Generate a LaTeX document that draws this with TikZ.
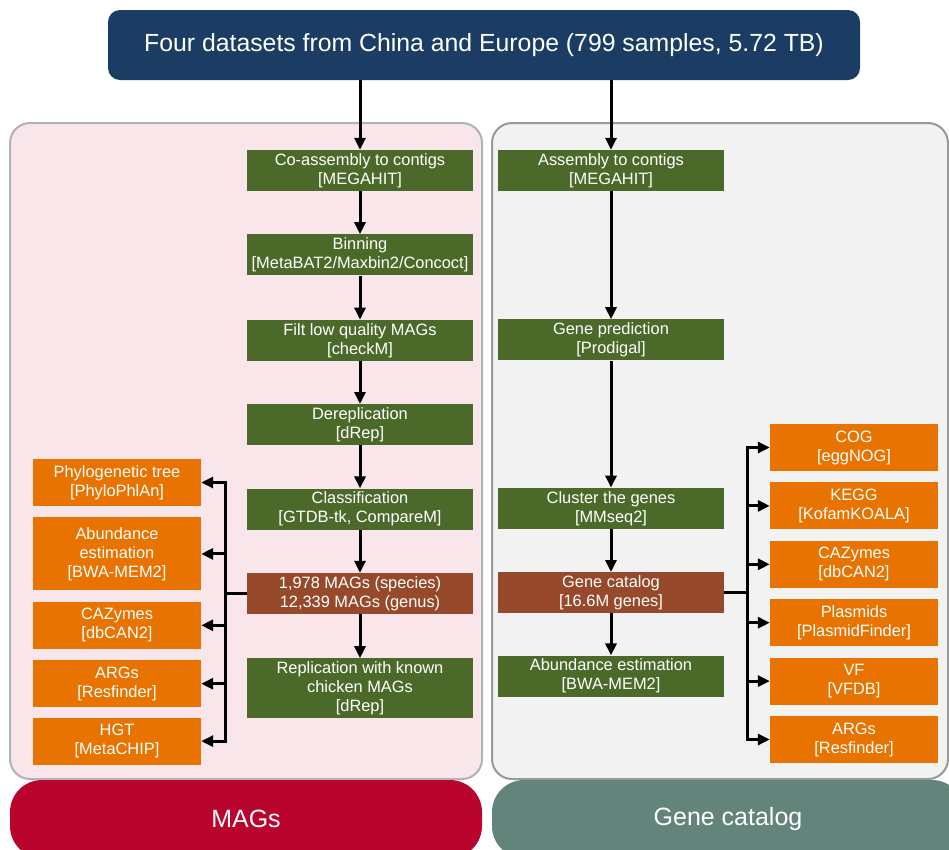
\documentclass[tikz,border=0pt]{standalone}
\usepackage{fontspec}
\setmainfont{Liberation Sans}
\usetikzlibrary{positioning,arrows.meta}
\definecolor{hdblue}{HTML}{1B3D63}
\definecolor{stepgreen}{HTML}{4B6A2A}
\definecolor{resbrown}{HTML}{964A2B}
\definecolor{outorange}{HTML}{E97300}
\definecolor{magpink}{HTML}{F8E6EA}
\definecolor{genegray}{HTML}{F1F2F1}
\definecolor{magred}{HTML}{B9042D}
\definecolor{geneteal}{HTML}{62847A}
\tikzset{
  box/.style={inner sep=0pt, align=center, text=white},
  stepbox/.style={box, fill=stepgreen, minimum width=226pt, minimum height=41pt},
  resbox/.style={stepbox, fill=resbrown},
  outbox/.style={box, fill=outorange, minimum width=168pt, minimum height=47pt},
  panel/.style={line width=2pt, rounded corners=20pt},
  tagbox/.style={box, minimum width=472pt, minimum height=78pt, rounded corners=32pt,
    font=\fontsize{25}{29}\selectfont},
  flow/.style={line width=3pt, -{Triangle[width=11pt,length=12pt]}},
  link/.style={line width=3pt}
}
\begin{document}
\begin{tikzpicture}[x=1pt, y=-1pt, font=\fontsize{16.4}{19}\selectfont]
  \useasboundingbox (0,0) rectangle (949,849);
  \clip (0,0) rectangle (949,849);
  \draw[panel, fill=magpink, draw=black!30] (10,123) rectangle (482,779);
  \draw[panel, fill=genegray, draw=black!40] (492,123) rectangle (948,779);
  \node[tagbox, fill=magred] (t1) at (246,819) {MAGs};
  \node[tagbox, fill=geneteal] (t2) at (728,819) {Gene catalog};

  \node[box, fill=hdblue, minimum width=752pt, minimum height=70pt, rounded corners=12pt,
    font=\fontsize{24.8}{29}\selectfont] (top) at (484,45)
    {Four datasets from China and Europe (799 samples, 5.72 TB)};

  \node[stepbox] (a1) at (360,170.5) {Co-assembly to contigs\\{[MEGAHIT]}};
  \node[stepbox, below=43pt of a1] (a2) {Binning\\{[MetaBAT2/Maxbin2/Concoct]}};
  \node[stepbox, below=44pt of a2] (a3) {Filt low quality MAGs\\{[checkM]}};
  \node[stepbox, below=43pt of a3] (a4) {Dereplication\\{[dRep]}};
  \node[stepbox, below=43pt of a4] (a5) {Classification\\{[GTDB-tk, CompareM]}};
  \node[resbox, below=43pt of a5] (a6) {1,978 MAGs (species)\\12,339 MAGs (genus)};
  \node[stepbox, minimum height=60pt, below=44pt of a6] (a7)
    {Replication with known\\chicken MAGs\\{[dRep]}};

  \node[outbox] (b1) at (117,482.5) {Phylogenetic tree\\{[PhyloPhlAn]}};
  \node[outbox, minimum height=73pt, below=11pt of b1] (b2) {Abundance\\estimation\\{[BWA-MEM2]}};
  \node[outbox, below=11pt of b2] (b3) {CAZymes\\{[dbCAN2]}};
  \node[outbox, below=11pt of b3] (b4) {ARGs\\{[Resfinder]}};
  \node[outbox, below=10pt of b4] (b5) {HGT\\{[MetaCHIP]}};

  \node[stepbox] (g1) at (611,170.5) {Assembly to contigs\\{[MEGAHIT]}};
  \node[stepbox, below=128pt of g1] (g2) {Gene prediction\\{[Prodigal]}};
  \node[stepbox, below=127pt of g2] (g3) {Cluster the genes\\{[MMseq2]}};
  \node[resbox, below=43pt of g3] (g4) {Gene catalog\\{[16.6M genes]}};
  \node[stepbox, below=42pt of g4] (g5) {Abundance estimation\\{[BWA-MEM2]}};

  \node[outbox] (c1) at (854,447.5) {COG\\{[eggNOG]}};
  \node[outbox, below=11pt of c1] (c2) {KEGG\\{[KofamKOALA]}};
  \node[outbox, below=11pt of c2] (c3) {CAZymes\\{[dbCAN2]}};
  \node[outbox, below=11pt of c3] (c4) {Plasmids\\{[PlasmidFinder]}};
  \node[outbox, below=11pt of c4] (c5) {VF\\{[VFDB]}};
  \node[outbox, below=11pt of c5] (c6) {ARGs\\{[Resfinder]}};

  \coordinate (lb) at ([xshift=24pt]b1.east);
  \coordinate (rb) at ([xshift=-22pt]c1.west);

  \draw[flow] (top.south -| a1) -- (a1);
  \draw[flow] (top.south -| g1) -- (g1);
  \foreach \i/\j in {a1/a2, a2/a3, a3/a4, a4/a5, a5/a6, a6/a7, g1/g2, g2/g3, g3/g4, g4/g5}
    \draw[flow] (\i) -- (\j);

  \draw[link] (a6.west) -- (a6.west -| lb);
  \draw[link] ([yshift=1.5pt]lb |- b1) -- ([yshift=-1.5pt]lb |- b5);
  \foreach \i in {b1, b2, b3, b4, b5}
    \draw[flow] (lb |- \i) -- (\i);

  \draw[link] (g4.east) -- (g4.east -| rb);
  \draw[link] ([yshift=1.5pt]rb |- c1) -- ([yshift=-1.5pt]rb |- c6);
  \foreach \i in {c1, c2, c3, c4, c5, c6}
    \draw[flow] (rb |- \i) -- (\i);
\end{tikzpicture}
\end{document}
